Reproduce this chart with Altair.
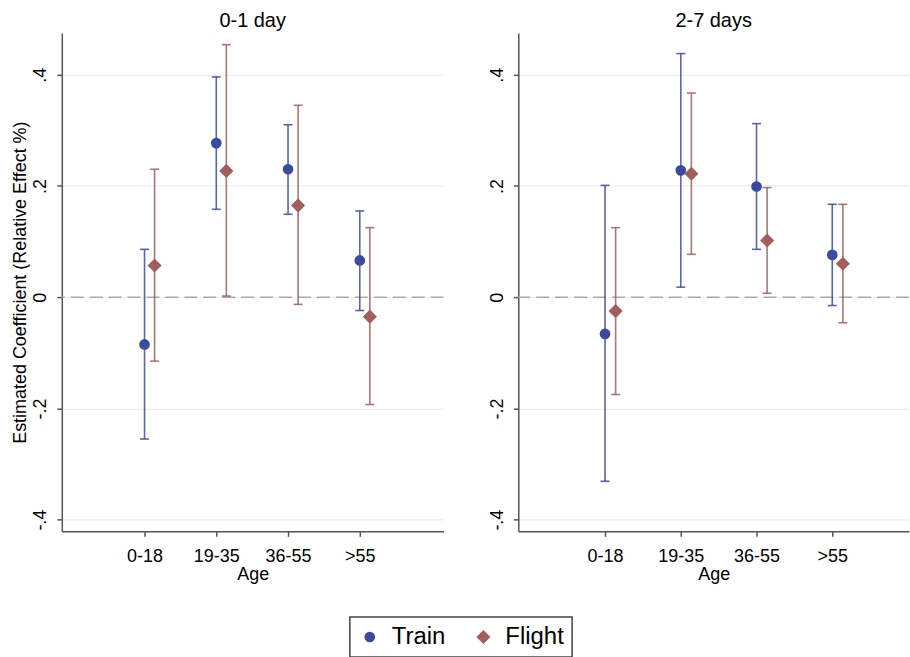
import json
import altair as alt
import pandas as pd

# Age groups and point estimates with 95% confidence bounds
ages = ["0-18", "19-35", "36-55", ">55"]
modes = ["Train", "Flight"]

train_01 = [-0.085, 0.277, 0.230, 0.066]
train_01_lo = [-0.255, 0.158, 0.149, -0.024]
train_01_hi = [0.086, 0.396, 0.310, 0.155]
flight_01 = [0.057, 0.227, 0.165, -0.035]
flight_01_lo = [-0.115, 0.002, -0.013, -0.193]
flight_01_hi = [0.230, 0.454, 0.345, 0.125]

train_27 = [-0.066, 0.228, 0.199, 0.076]
train_27_lo = [-0.331, 0.018, 0.086, -0.015]
train_27_hi = [0.201, 0.438, 0.312, 0.167]
flight_27 = [-0.025, 0.222, 0.102, 0.060]
flight_27_lo = [-0.175, 0.077, 0.007, -0.046]
flight_27_hi = [0.125, 0.367, 0.197, 0.167]

y_ticks = [-0.4, -0.2, 0, 0.2, 0.4]

marker_colors = ["#3c4a9e", "#a25d5d"]
marker_sizes = [115, 200]
FONT = "Liberation Sans"


def build_frame(series):
    rows = []
    for mode, (est, lo, hi) in series.items():
        for i, age in enumerate(ages):
            rows.append({"age": age, "grp": i + 1, "mode": mode,
                         "est": est[i], "lo": lo[i], "hi": hi[i]})
    return pd.DataFrame(rows)


df_01 = build_frame({"Train": (train_01, train_01_lo, train_01_hi),
                     "Flight": (flight_01, flight_01_lo, flight_01_hi)})
df_27 = build_frame({"Train": (train_27, train_27_lo, train_27_hi),
                     "Flight": (flight_27, flight_27_lo, flight_27_hi)})

age_labels_expr = json.dumps(ages) + "[datum.value - 1]"
y_label_expr = ("datum.value == 0 ? '0' : "
                "(datum.value < 0 ? '-' : '') + '.' + abs(round(datum.value * 10))")

color_enc = alt.Color("mode:N", scale=alt.Scale(domain=modes, range=marker_colors),
                      title=None)
shape_enc = alt.Shape("mode:N", scale=alt.Scale(domain=modes, range=["circle", "diamond"]),
                      title=None)
size_enc = alt.Size("mode:N", scale=alt.Scale(domain=modes, range=marker_sizes),
                    title=None)


def panel(df, title, x_domain, width, show_y_title):
    base = alt.Chart(df).transform_calculate(
        pos="datum.grp + (datum.mode == 'Flight' ? 0.14 : 0)"
    )
    x_enc = alt.X(
        "pos:Q",
        scale=alt.Scale(domain=x_domain, nice=False, zero=False),
        axis=alt.Axis(values=[1, 2, 3, 4], labelExpr=age_labels_expr, grid=False,
                      title="Age", tickSize=5, labelPadding=11, titlePadding=0),
    )
    y_axis = alt.Axis(
        values=y_ticks, labelExpr=y_label_expr, labelAngle=270,
        labelAlign="center", labelBaseline="bottom", labelPadding=7,
        tickSize=5, grid=True,
        title="Estimated Coefficient (Relative Effect %)" if show_y_title else None,
        titlePadding=2,
    )
    y_scale = alt.Scale(domain=[-0.421, 0.475], nice=False, zero=False)

    zero_line = alt.Chart(pd.DataFrame({"z": [0]})).mark_rule(
        color="#aaaaaa", strokeDash=[13, 6], strokeWidth=1.5
    ).encode(y=alt.Y("z:Q", scale=y_scale, axis=y_axis))

    bars = base.mark_rule(strokeWidth=1.6, opacity=0.85).encode(
        x=x_enc, y=alt.Y("lo:Q", scale=y_scale, axis=y_axis), y2="hi:Q",
        color=color_enc,
    )
    cap_lo = base.mark_tick(orient="horizontal", size=9, thickness=1.6, opacity=0.85).encode(
        x="pos:Q", y="lo:Q", color=color_enc)
    cap_hi = base.mark_tick(orient="horizontal", size=9, thickness=1.6, opacity=0.85).encode(
        x="pos:Q", y="hi:Q", color=color_enc)
    points = base.mark_point(filled=True, opacity=1).encode(
        x="pos:Q", y="est:Q", color=color_enc, shape=shape_enc, size=size_enc)

    return alt.layer(zero_line, bars, cap_lo, cap_hi, points).properties(
        width=width, height=500,
        title=alt.TitleParams(title, fontSize=20, font=FONT, fontWeight="normal",
                              color="#000000", anchor="middle", offset=2),
    )


left = panel(df_01, "0-1 day", [-0.153, 5.167], 383, True)
right = panel(df_27, "2-7 days", [-0.145, 5.013], 392, False)

chart = alt.hconcat(left, right, spacing=44).resolve_scale(
    x="independent", y="independent"
).properties(
    padding={"left": 12, "top": 10, "right": 0, "bottom": 0}
).configure(
    font=FONT,
    background="white",
).configure_view(
    stroke=None,
).configure_axis(
    labelFont=FONT, titleFont=FONT, labelFontSize=18, titleFontSize=18,
    labelColor="#000000", titleColor="#000000", titleFontWeight="normal",
    domainColor="#555555", domainWidth=1.5, tickColor="#555555", tickWidth=1.5,
    gridColor="#e9e9e9", gridWidth=1,
).configure_legend(
    orient="none", legendX=289, legendY=586, direction="horizontal",
    strokeColor="#444444", strokeWidth=1.5, fillColor="white", padding=8,
    labelFont=FONT, labelFontSize=24, labelColor="#000000", labelOffset=10,
    columnPadding=26, symbolStrokeWidth=0, cornerRadius=0, symbolOpacity=1,
)

chart.save("out.html", embed_options={"renderer": "svg", "actions": False})
